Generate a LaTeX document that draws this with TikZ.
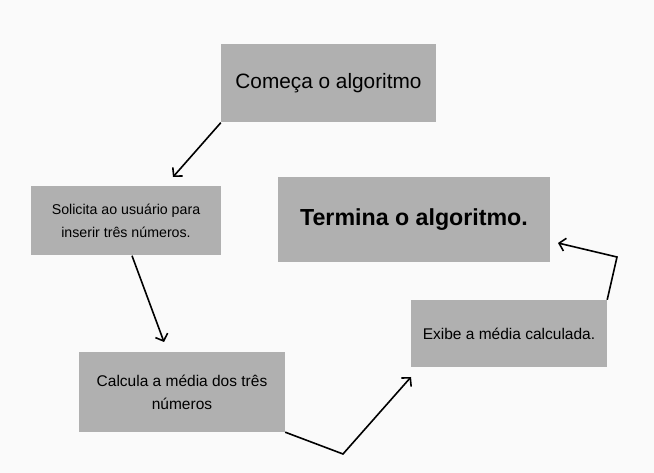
\documentclass[tikz,border=0pt]{standalone}
\usepackage{fontspec}
\setmainfont{Liberation Sans}
\usetikzlibrary{arrows.meta}
\definecolor{fundo}{HTML}{FAFAFA}
\definecolor{caixa}{HTML}{B0B0B0}
\tikzset{
    etapa/.style={fill=caixa,inner sep=0pt,align=center,text=black},
    seta/.style={-{Straight Barb[length=6pt,width=13pt]},line width=1.6pt}
}

\begin{document}
\begin{tikzpicture}[x=1pt,y=-1pt]
        \fill[fundo] (0,0) rectangle (654,473);

        \node[etapa,minimum width=215pt,minimum height=78pt,font=\fontsize{20.8}{24}\selectfont] (inicio) at (328.5,83.5) {Começa o algoritmo};
        \node[etapa,minimum width=190pt,minimum height=69pt,font=\fontsize{14.2}{23}\selectfont] (solicita) at (126,221) {Solicita ao usuário para\\inserir três números.};
        \node[etapa,minimum width=272pt,minimum height=85pt,font=\bfseries\fontsize{23.2}{26}\selectfont] (termina) at (414,219.5) {Termina o algoritmo.};
        \node[etapa,minimum width=206pt,minimum height=80pt,font=\fontsize{15.5}{23}\selectfont] (calcula) at (182,392) {Calcula a média dos três\\números};
        \node[etapa,minimum width=196pt,minimum height=67pt,font=\fontsize{15.5}{18}\selectfont] (exibe) at (509,333.5) {Exibe a média calculada.};

        % pontas livres das setas
        \coordinate (p1) at (173,177);
        \coordinate (p2) at (164,342);
        \coordinate (c3) at (343,454);
        \coordinate (p3) at (411,377);
        \coordinate (c4) at (617,257);
        \coordinate (p4) at (558,243);

        \draw[seta] (inicio.south west) -- (p1);
        \draw[seta] ([xshift=6pt]solicita.south) -- (p2);
        \draw[seta,line join=miter] (calcula.south east) -- (c3) -- (p3);
        \draw[seta,line join=miter] (exibe.north east) -- (c4) -- (p4);

    \end{tikzpicture}
\end{document}
